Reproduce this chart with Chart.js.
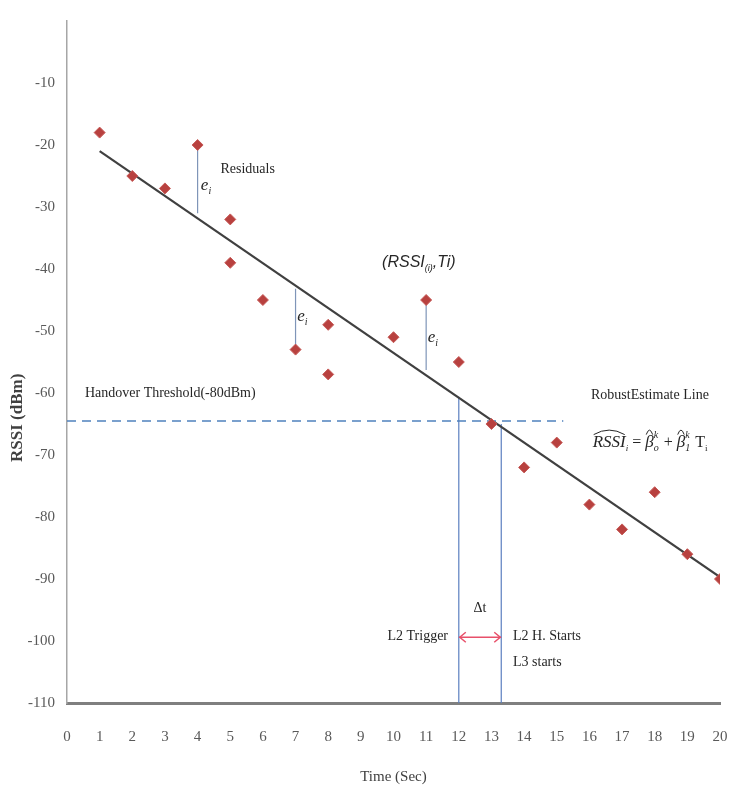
<!DOCTYPE html>
<html>
<head>
<meta charset="utf-8">
<script src="https://cdn.jsdelivr.net/npm/chart.js@4/dist/chart.umd.min.js"></script>
<style>
  html, body { margin: 0; padding: 0; background: #fff; }
  #wrap { width: 729px; height: 790px; }
</style>
</head>
<body>
<div id="wrap"><canvas id="rssiChart" width="729" height="790"></canvas></div>
<script>
// measured samples (time in sec, RSSI in dBm)
const timeSec = [1, 2, 3, 4, 5, 5, 6, 7, 8, 8, 10, 11, 12, 13, 14, 15, 16, 17, 18, 19, 20];
const rssiDbm = [-18, -25, -27, -20, -32, -39, -45, -53, -49, -57, -51, -45, -55, -65, -72, -68, -78, -82, -76, -86, -90];

// robust estimate line end points
const fitTime = [1, 20];
const fitRssi = [-21, -89.7];

// handover threshold (dashed)
const thresholdTime = [0, 15.2];
const thresholdRssi = [-64.5, -64.5];

// residual segments e_i
const residualTime = [4, 7, 11];
const residualTop = [-20, -43.2, -45];
const residualBottom = [-31, -53, -56.3];

// L2 trigger / L2 handover start markers
const markerTime = [12, 13.3];
const markerTop = [-60.6, -65];
const arrowRssi = -99.4;

const xTicks = [0, 20, 1];          // min, max, step
const yTicks = [-110, 0, 10];       // min, max, step

const serif = '"Liberation Serif", "Times New Roman", serif';
const textColor = '#262626';
const tickColor = '#595959';

const pts = (xs, ys) => xs.map((x, i) => ({ x, y: ys[i] }));

const lineSet = (data, color, width, extra = {}) => ({
  type: 'line',
  data,
  showLine: true,
  borderColor: color,
  borderWidth: width,
  pointRadius: 0,
  pointHoverRadius: 0,
  fill: false,
  order: 2,
  ...extra
});

const datasets = [
  {
    type: 'scatter',
    label: 'RSSI',
    data: pts(timeSec, rssiDbm),
    pointStyle: 'rectRot',
    pointRadius: 5.5,
    backgroundColor: '#b8413f',
    borderColor: '#c65a57',
    borderWidth: 1,
    order: 0
  },
  lineSet(pts(fitTime, fitRssi), '#404040', 2.2, { order: 1 }),
  lineSet(pts(thresholdTime, thresholdRssi), '#4f81bd', 1.5, { borderDash: [9, 6] }),
  ...residualTime.map((t, i) => lineSet(pts([t, t], [residualTop[i], residualBottom[i]]), '#7f95b8', 1.2)),
  ...markerTime.map((t, i) => lineSet(pts([t, t], [markerTop[i], yTicks[0]]), '#5b7fc0', 1.2)),
  lineSet(pts(markerTime, [arrowRssi, arrowRssi]), '#e8506a', 1.5)
];

// rich-text notes placed in data coordinates
const it = (size) => `italic ${size}px ${serif}`;
const up = (size) => `${size}px ${serif}`;
const sansIt = (size) => `italic ${size}px "Liberation Sans", Arial, sans-serif`;

const eI = [{ t: 'e', f: it(17) }, { t: 'i', f: it(10), dy: 6 }];

const notes = [
  { x: 4.1, y: -26.5, parts: eI },
  { x: 4.7, y: -24, parts: [{ t: 'Residuals', f: up(14) }] },
  { x: 7.05, y: -47.7, parts: eI },
  { x: 11.05, y: -51, parts: eI },
  { x: 9.65, y: -39, parts: [
    { t: '(', f: sansIt(16) }, { t: 'RSSI', f: sansIt(16) }, { t: '(i)', f: sansIt(9), dy: 6 },
    { t: ',Ti)', f: sansIt(16) }
  ] },
  { x: 0.55, y: -60, parts: [{ t: 'Handover Threshold(-80dBm)', f: up(14) }] },
  { x: 16.05, y: -60.3, parts: [{ t: 'RobustEstimate Line', f: up(14) }] },
  { x: 16.1, y: -68, parts: [
    { t: 'RSSI', f: it(17), hat: true }, { t: 'i', f: it(9), dy: 6 },
    { t: ' = ', f: up(16) },
    { t: 'β', f: it(17), hat: true }, { sup: 'k', sub: 'o', f: it(10) },
    { t: ' + ', f: up(16) },
    { t: 'β', f: it(17), hat: true }, { sup: 'k', sub: '1', f: it(10) },
    { t: ' T', f: up(16) }, { t: 'i', f: up(9), dy: 6 }
  ] },
  { x: 12.45, y: -94.7, parts: [{ t: 'Δt', f: up(14) }] },
  { x: 11.67, y: -99.2, align: 'right', parts: [{ t: 'L2 Trigger', f: up(14) }] },
  { x: 13.66, y: -99.2, parts: [{ t: 'L2 H. Starts', f: up(14) }] },
  { x: 13.66, y: -103.4, parts: [{ t: 'L3 starts', f: up(14) }] }
];

function drawParts(ctx, x, y, parts, align) {
  let total = 0;
  const widths = parts.map(p => {
    ctx.font = p.f;
    const w = p.t !== undefined ? ctx.measureText(p.t).width
      : Math.max(ctx.measureText(p.sup).width, ctx.measureText(p.sub).width) + 1;
    total += w;
    return w;
  });
  let cx = align === 'right' ? x - total : x;
  parts.forEach((p, i) => {
    ctx.font = p.f;
    if (p.t !== undefined) {
      ctx.fillText(p.t, cx, y + (p.dy || 0));
      if (p.hat) {
        ctx.beginPath();
        ctx.moveTo(cx + 1, y - 8);
        ctx.quadraticCurveTo(cx + widths[i] / 2, y - 17, cx + widths[i] - 1, y - 8);
        ctx.lineWidth = 1;
        ctx.strokeStyle = textColor;
        ctx.stroke();
      }
    } else {
      ctx.fillText(p.sup, cx, y - 7);
      ctx.fillText(p.sub, cx, y + 6);
    }
    cx += widths[i];
  });
}

const notesPlugin = {
  id: 'notes',
  afterDatasetsDraw(chart) {
    const { ctx, scales: { x, y } } = chart;
    ctx.save();
    ctx.fillStyle = textColor;
    ctx.textBaseline = 'middle';
    ctx.textAlign = 'left';
    notes.forEach(n => drawParts(ctx, x.getPixelForValue(n.x), y.getPixelForValue(n.y), n.parts, n.align));

    // arrow heads on the delta-t span
    const ay = y.getPixelForValue(arrowRssi);
    const x1 = x.getPixelForValue(markerTime[0]);
    const x2 = x.getPixelForValue(markerTime[1]);
    ctx.strokeStyle = '#e8506a';
    ctx.lineWidth = 1.5;
    ctx.beginPath();
    ctx.moveTo(x1 + 7, ay - 5); ctx.lineTo(x1 + 1, ay); ctx.lineTo(x1 + 7, ay + 5);
    ctx.moveTo(x2 - 7, ay - 5); ctx.lineTo(x2 - 1, ay); ctx.lineTo(x2 - 7, ay + 5);
    ctx.stroke();

    // y axis title
    ctx.save();
    ctx.translate(18, y.getPixelForValue(-64));
    ctx.rotate(-Math.PI / 2);
    ctx.textAlign = 'center';
    ctx.font = `bold 17px ${serif}`;
    ctx.fillStyle = '#404040';
    ctx.fillText('RSSI (dBm)', 0, 0);
    ctx.restore();
    ctx.restore();
  }
};

new Chart(document.getElementById('rssiChart'), {
  type: 'scatter',
  data: { datasets },
  plugins: [notesPlugin],
  options: {
    responsive: false,
    animation: false,
    devicePixelRatio: 1,
    layout: { padding: { left: 0, right: 9, top: 21, bottom: 0 } },
    plugins: {
      legend: { display: false },
      tooltip: { enabled: false }
    },
    scales: {
      x: {
        type: 'linear',
        min: xTicks[0],
        max: xTicks[1],
        afterFit: s => { s.height = 87; s.paddingLeft = 0; s.paddingRight = 0; },
        grid: { display: false, drawTicks: false },
        border: { display: true, color: '#7f7f7f', width: 3 },
        ticks: {
          stepSize: xTicks[2],
          padding: 25,
          color: tickColor,
          font: { family: serif, size: 15 }
        },
        title: {
          display: true,
          text: 'Time (Sec)',
          color: '#404040',
          padding: { top: 0, bottom: 4 },
          font: { family: serif, size: 15 }
        }
      },
      y: {
        type: 'linear',
        min: yTicks[0],
        max: yTicks[1],
        afterFit: s => { s.width = 67; },
        grid: { display: false, drawTicks: false },
        border: { display: true, color: '#a6a6a6', width: 1.5 },
        ticks: {
          stepSize: yTicks[2],
          padding: 12,
          color: tickColor,
          font: { family: serif, size: 15 },
          callback: v => (v === 0 ? '' : v)
        }
      }
    }
  }
});
</script>
</body>
</html>
